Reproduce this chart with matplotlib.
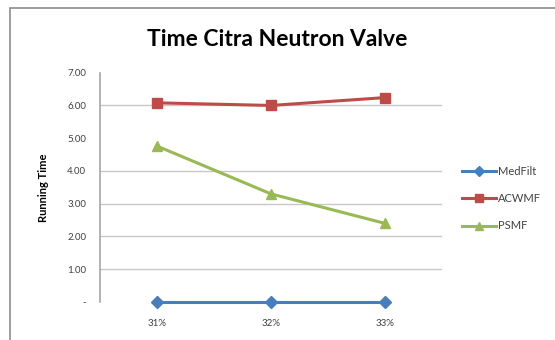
import matplotlib
matplotlib.use("Agg")
import matplotlib.pyplot as plt
from matplotlib.patches import Rectangle

plt.rcParams['font.family'] = ['Lato', 'DejaVu Sans']

categories = ["31%", "32%", "33%"]
medfilt = [0.0, 0.0, 0.0]
acwmf = [6.08, 6.00, 6.24]
psmf = [4.76, 3.30, 2.40]
y_ticks = [0, 1, 2, 3, 4, 5, 6, 7]
y_labels = ["-", "1.00", "2.00", "3.00", "4.00", "5.00", "6.00", "7.00"]
grid_vals = [1, 2, 3, 4, 6]

fig = plt.figure(figsize=(5.55, 3.4), dpi=100)
W, H = 555, 340

# outer chart border
fig.patches.append(Rectangle((10 / W, -0.1), 1.2, 1 - 8 / H + 0.1,
                             transform=fig.transFigure, fill=False,
                             edgecolor='#8c8c8c', linewidth=1.2))

ax = fig.add_axes([100 / W, 1 - 302 / H, 342 / W, (302 - 72.7) / H])
x = range(len(categories))

for v in grid_vals:
    ax.axhline(v, color='#c8c8c8', linewidth=1.0, zorder=0)

ax.plot(x, medfilt, color='#4A7EBB', marker='D', markersize=6, linewidth=2.2,
        label='MedFilt', zorder=3, clip_on=False)
ax.plot(x, acwmf, color='#BE4B48', marker='s', markersize=7, linewidth=2.2,
        label='ACWMF', zorder=3, clip_on=False)
ax.plot(x, psmf, color='#98B954', marker='^', markersize=7, linewidth=2.2,
        label='PSMF', zorder=3, clip_on=False)

ax.set_xlim(-0.5, 2.5)
ax.set_ylim(0, 7)
ax.set_xticks(list(x))
ax.set_xticklabels(categories, fontsize=7, color='#404040')
ax.set_yticks(y_ticks)
ax.set_yticklabels(y_labels, fontsize=7, color='#404040')
ax.tick_params(length=0, pad=10)
ax.tick_params(axis='x', pad=12)

for s in ['top', 'right', 'bottom']:
    ax.spines[s].set_visible(False)
ax.spines['left'].set_color('#a6a6a6')
ax.spines['left'].set_linewidth(1.2)

ax.set_ylabel("Running Time", fontsize=8, fontweight='bold', labelpad=13)
fig.text(277 / W, 1 - 40 / H, "Time Citra Neutron Valve", ha='center', va='center',
         fontsize=16.5, fontweight='bold')

leg = ax.legend(loc='center left', bbox_to_anchor=(1.03, 0.45), frameon=False,
                fontsize=8, handlelength=3, labelspacing=1.45, handletextpad=0.25,
                markerscale=0.8)
for t in leg.get_texts():
    t.set_color('#404040')

fig.savefig("out.png", dpi=100)
